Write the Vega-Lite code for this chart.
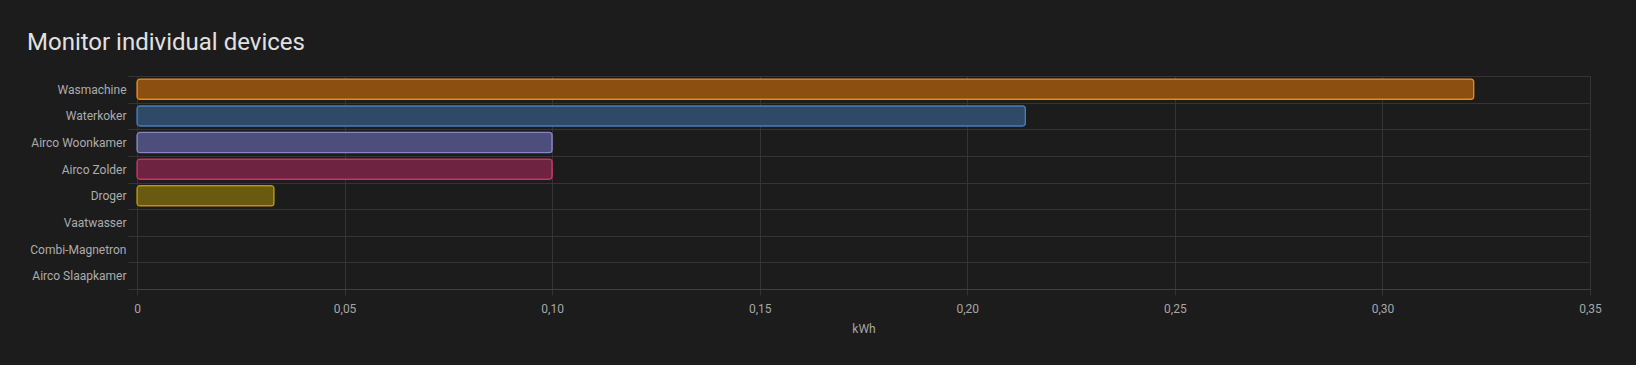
{
  "$schema": "https://vega.github.io/schema/vega-lite/v6.json",
  "width": 1453,
  "height": 213,
  "autosize": {"type": "none"},
  "padding": {"left": 137, "top": 76, "right": 46, "bottom": 76},
  "background": "#1c1c1c",
  "title": {
    "text": "Monitor individual devices",
    "anchor": "start",
    "frame": "group",
    "dx": -110,
    "dy": 29,
    "offset": 25,
    "baseline": "alphabetic",
    "font": "Roboto",
    "fontSize": 24,
    "fontWeight": 400,
    "color": "#e1e1e1"
  },
  "data": {
    "values": [
      {"device": "Wasmachine", "kwh": 0.322},
      {"device": "Waterkoker", "kwh": 0.214},
      {"device": "Airco Woonkamer", "kwh": 0.1},
      {"device": "Airco Zolder", "kwh": 0.1},
      {"device": "Droger", "kwh": 0.033},
      {"device": "Vaatwasser", "kwh": 0},
      {"device": "Combi-Magnetron", "kwh": 0},
      {"device": "Airco Slaapkamer", "kwh": 0}
    ]
  },
  "mark": {"type": "bar", "height": {"band": 0.76}, "cornerRadius": 3, "strokeWidth": 1.2},
  "encoding": {
    "y": {
      "field": "device",
      "type": "nominal",
      "sort": null,
      "scale": {"paddingInner": 0, "paddingOuter": 0},
      "axis": {
        "title": null,
        "tickBand": "extent",
        "grid": true,
        "gridColor": "#343434",
        "tickColor": "#343434",
        "tickSize": 9,
        "labelPadding": 2,
        "domain": false,
        "labelFont": "Roboto",
        "labelFontSize": 12,
        "labelColor": "#acacac"
      }
    },
    "x": {
      "field": "kwh",
      "type": "quantitative",
      "scale": {"domain": [0, 0.35], "nice": false, "zero": true},
      "axis": {
        "title": "kWh",
        "values": [0, 0.05, 0.1, 0.15, 0.2, 0.25, 0.3, 0.35],
        "labelExpr": "datum.value == 0 ? '0' : replace(format(datum.value, '.2f'), '.', ',')",
        "grid": true,
        "gridColor": "#343434",
        "tickColor": "#343434",
        "domainColor": "#404040",
        "tickSize": 6,
        "labelPadding": 8,
        "labelFont": "Roboto",
        "labelFontSize": 12,
        "labelColor": "#a6a6a6",
        "labelFlush": false,
        "titleFont": "Roboto",
        "titleFontSize": 12,
        "titleFontWeight": 400,
        "titleColor": "#a6a6a6",
        "titlePadding": 9
      }
    },
    "fill": {
      "field": "device",
      "type": "nominal",
      "legend": null,
      "scale": {
        "domain": ["Wasmachine", "Waterkoker", "Airco Woonkamer", "Airco Zolder", "Droger", "Vaatwasser", "Combi-Magnetron", "Airco Slaapkamer"],
        "range": ["#8c4f10", "#2e4a66", "#4e4e7c", "#6e2340", "#6a5a10", "transparent", "transparent", "transparent"]
      }
    },
    "stroke": {
      "field": "device",
      "type": "nominal",
      "legend": null,
      "scale": {
        "domain": ["Wasmachine", "Waterkoker", "Airco Woonkamer", "Airco Zolder", "Droger", "Vaatwasser", "Combi-Magnetron", "Airco Slaapkamer"],
        "range": ["#f08a1e", "#4a7cbc", "#8585c8", "#c8366a", "#b89a0c", "transparent", "transparent", "transparent"]
      }
    }
  },
  "config": {"view": {"stroke": null}}
}
